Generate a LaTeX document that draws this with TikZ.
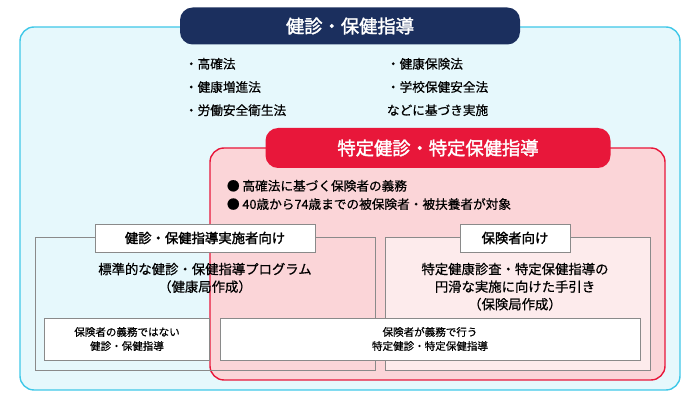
\documentclass[tikz,border=0pt]{standalone}
\usepackage{fontspec}
\setmainfont{Noto Sans CJK JP}[FakeBold=1]
\newfontfamily\jpbold{Noto Sans CJK JP}[FakeBold=1.8]
\newfontfamily\jpmed{Noto Sans CJK JP}[FakeBold=0.6]
\usetikzlibrary{positioning}
\definecolor{navyc}{HTML}{1B2F5E}
\definecolor{redc}{HTML}{E8173A}
\definecolor{cyanb}{HTML}{3FC8E8}
\definecolor{cyanf}{HTML}{E6F8FC}
\definecolor{pinkf}{HTML}{FBD5D8}
\definecolor{pinkl}{HTML}{FDEBEC}
\definecolor{grayb}{HTML}{8A8A8A}
\tikzset{
  pill/.style={rounded corners=9pt, text=white, font=\jpbold\fontsize{13}{14}\selectfont},
  tagbox/.style={draw=grayb, fill=white, font=\jpbold\fontsize{9.5}{11}\selectfont},
  smallbox/.style={draw=grayb, fill=white, font=\jpmed\fontsize{7.5}{10}\selectfont, align=center},
  body/.style={font=\jpmed\fontsize{9}{16.5}\selectfont, align=left, anchor=north west},
  prose/.style={font=\jpmed\fontsize{9.5}{12.5}\selectfont, align=center},
}
\begin{document}
\begin{tikzpicture}[x=0.025cm, y=-0.025cm]
  \useasboundingbox (0,0) rectangle (700,400);
  % outer area
  \draw[cyanb, fill=cyanf, rounded corners=10pt, line width=1pt] (20,27) rectangle (680,390);
  \node[pill, fill=navyc, minimum width=340*0.025cm, minimum height=37*0.025cm] (title) at (350,26) {健診・保健指導};
  \node[body] (lawa) at (180,53) {・高確法\\・健康増進法\\・労働安全衛生法};
  \node[body] (lawb) at (382,53) {・健康保険法\\・学校保健安全法\\などに基づき実施};
  % specific area
  \draw[redc, fill=pinkf, rounded corners=10pt, line width=1pt] (210,148) rectangle (665,380);
  \node[pill, fill=redc, minimum width=345*0.025cm, minimum height=40*0.025cm] (spec) at (438,148) {特定健診・特定保健指導};
  \node[body, font=\jpmed\fontsize{9}{13}\selectfont] (duty) at (222,175) {● 高確法に基づく保険者の義務\\● 40歳から74歳までの被保険者・被扶養者が対象};
  % audience boxes
  \draw[grayb] (35,237) rectangle (375,370);
  \draw[grayb, fill=pinkl] (385,237) rectangle (650,370);
  \node[tagbox, minimum width=220*0.025cm, minimum height=28*0.025cm] (tagl) at (205,238) {健診・保健指導実施者向け};
  \node[tagbox, minimum width=110*0.025cm, minimum height=28*0.025cm] (tagr) at (515,238) {保険者向け};
  \node[prose, below=4pt of tagl] (prog) {標準的な健診・保健指導プログラム\\（健康局作成）};
  \node[prose, below=4pt of tagr] (guide) {特定健康診査・特定保健指導の\\円滑な実施に向けた手引き\\（保険局作成）};
  % bottom boxes
  \node[smallbox, minimum width=165*0.025cm, minimum height=42*0.025cm] (nonduty) at (127,339) {保険者の義務ではない\\健診・保健指導};
  \node[smallbox, minimum width=420*0.025cm, minimum height=42*0.025cm] (isduty) at (430,339) {保険者が義務で行う\\特定健診・特定保健指導};
\end{tikzpicture}
\end{document}
